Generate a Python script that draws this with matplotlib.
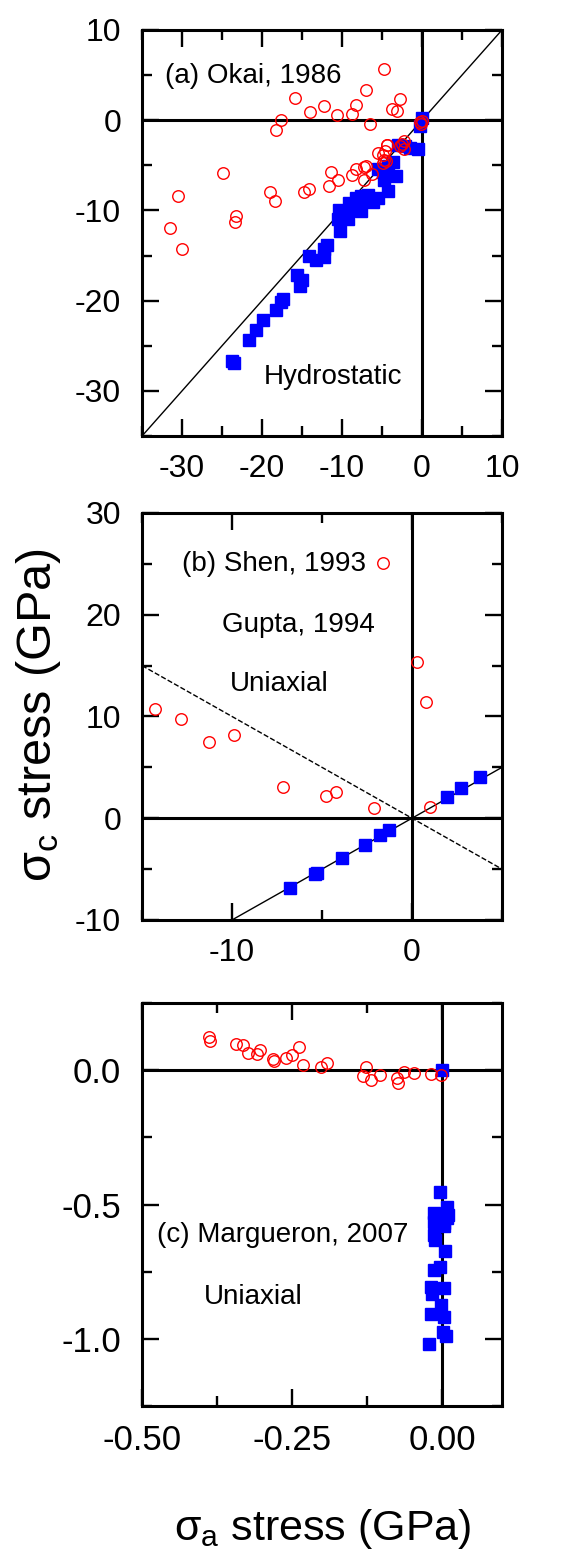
import matplotlib
matplotlib.use("Agg")
import matplotlib.pyplot as plt
from matplotlib.ticker import MultipleLocator, FormatStrFormatter

plt.rcParams['font.family'] = ['Liberation Sans', 'DejaVu Sans']
plt.rcParams['mathtext.fontset'] = 'custom'
plt.rcParams['mathtext.rm'] = 'Liberation Sans'
plt.rcParams['mathtext.it'] = 'Liberation Sans'
plt.rcParams['axes.unicode_minus'] = False

# (a) Okai, 1986 -- hydrostatic
okai_open_x = [-4.8, -7.0, -15.9, -12.3, -8.3, -2.7, -14.0, -10.6, -8.7, -3.8,
               -3.1, -6.5, -17.6, -18.3, -0.2, -0.1, 0.0, -2.5, -2.3, -2.2,
               -2.8, -4.4, -4.6, -4.9, -4.7, -4.9, -4.35, -4.5, -5.5, -7.0,
               -8.2, -7.2, -7.3, -8.7, -6.2, -11.4, -11.6, -10.5, -14.1, -14.8,
               -19.0, -18.4, -24.9, -30.5, -23.3, -23.4, -31.5, -30.0]
okai_open_y = [5.7, 3.3, 2.5, 1.6, 1.65, 2.3, 0.9, 0.55, 0.7, 1.2,
               1.0, -0.45, 0.0, -1.1, -0.2, -0.4, -0.1, -2.6, -3.2, -2.3,
               -2.9, -2.8, -3.4, -3.8, -4.4, -4.7, -2.8, -4.5, -3.6, -5.1,
               -5.4, -5.2, -6.6, -6.1, -6.0, -5.7, -7.3, -6.6, -7.6, -8.0,
               -8.0, -9.0, -5.8, -8.4, -10.6, -11.3, -11.9, -14.3]
okai_fill_x = [0.0, -0.3, -0.5, -1.5, -2.1, -3.0, -3.6, -4.3, -4.9, -3.3,
               -4.7, -4.3, -5.5, -5.5, -6.1, -6.7, -7.1, -7.6, -8.3, -8.5,
               -7.6, -9.1, -9.3, -9.7, -10.4, -10.5, -10.3, -11.9, -12.3, -12.2,
               -13.3, -14.1, -15.6, -15.0, -15.2, -17.4, -17.6, -18.2, -19.9, -20.7,
               -21.6, -23.7, -23.5]
okai_fill_y = [0.2, -0.6, -3.2, -3.1, -2.9, -2.7, -4.6, -5.1, -5.7, -6.2,
               -6.6, -7.8, -5.4, -8.6, -9.1, -8.3, -9.0, -8.4, -8.6, -9.8,
               -10.1, -9.2, -11.0, -10.3, -10.0, -10.9, -12.3, -13.8, -14.3, -15.2,
               -15.5, -15.0, -17.1, -17.7, -18.4, -19.8, -20.1, -21.0, -22.1, -23.2,
               -24.3, -26.7, -26.9]
hydro_line = [-35, 10]

# (b) Shen 1993 (open), Gupta 1994 (filled) -- uniaxial
shen_x = [-1.6, 0.3, 0.8, -14.3, -12.85, -11.3, -9.9, -7.15, -4.8, -4.2, -2.1, 1.0]
shen_y = [25.1, 15.4, 11.4, 10.7, 9.8, 7.45, 8.15, 3.1, 2.2, 2.55, 0.98, 1.14]
gupta_x = [-6.75, -5.4, -5.25, -3.9, -2.6, -1.8, -1.3, 1.95, 2.75, 3.8]
gupta_y = [-6.9, -5.5, -5.4, -3.9, -2.6, -1.65, -1.15, 2.1, 2.95, 4.1]
gupta_line = [-10, 5]
shen_line = [-15, 5]

# (c) Margueron, 2007 -- uniaxial
marg_open_x = [-0.388, -0.387, -0.343, -0.331, -0.324, -0.309, -0.303, -0.281, -0.280,
               -0.260, -0.250, -0.238, -0.231, -0.202, -0.192, -0.131, -0.126,
               -0.119, -0.104, -0.075, -0.074, -0.063, -0.046, -0.019, -0.002]
marg_open_y = [0.122, 0.110, 0.097, 0.095, 0.064, 0.060, 0.074, 0.043, 0.036,
               0.047, 0.057, 0.085, 0.020, 0.013, 0.027, -0.022, 0.011,
               -0.035, -0.016, -0.028, -0.047, -0.006, -0.010, -0.014, -0.018]
marg_fill_x = [0.0, -0.003, 0.008, -0.014, 0.010, -0.014, 0.003, 0.008, 0.003,
               -0.014, -0.012, 0.005, -0.014, -0.003, -0.019, -0.016, 0.004,
               -0.002, -0.019, 0.004, 0.002, 0.006, -0.021]
marg_fill_y = [0.0, -0.454, -0.51, -0.53, -0.54, -0.565, -0.57, -0.55, -0.58,
               -0.615, -0.633, -0.673, -0.744, -0.732, -0.806, -0.831, -0.809,
               -0.874, -0.907, -0.917, -0.973, -0.989, -1.019]

RED = '#ff0000'
BLUE = '#0000ff'
LW = 2.2

fig = plt.figure(figsize=(5.88, 15.54), dpi=100)
ax_a = fig.add_axes([0.2415, 0.7194, 0.6122, 0.2613])
ax_b = fig.add_axes([0.2415, 0.4080, 0.6122, 0.2619])
ax_c = fig.add_axes([0.2415, 0.0952, 0.6122, 0.2593])


def style(ax, size):
    for s in ax.spines.values():
        s.set_linewidth(LW)
    ax.tick_params(which='both', direction='in', top=True, right=True,
                   width=1.7, labelsize=size)
    ax.tick_params(which='major', length=12)
    ax.tick_params(which='minor', length=7)
    ax.tick_params(axis='x', pad=13)
    ax.tick_params(axis='y', pad=15)
    ax.axhline(0, color='k', lw=LW, zorder=1)
    ax.axvline(0, color='k', lw=LW, zorder=1)


def scatter(ax, ox, oy, fx, fy):
    ax.plot(fx, fy, 's', ms=8.8, color=BLUE, mec=BLUE, zorder=3)
    ax.plot(ox, oy, 'o', ms=8.3, mfc='none', mec=RED, mew=1.0, zorder=4)


# panel a
style(ax_a, 23)
ax_a.plot(hydro_line, hydro_line, 'k-', lw=1.0, zorder=2)
scatter(ax_a, okai_open_x, okai_open_y, okai_fill_x, okai_fill_y)
ax_a.set_xlim(-35, 10)
ax_a.set_ylim(-35, 10)
for axis in (ax_a.xaxis, ax_a.yaxis):
    axis.set_major_locator(MultipleLocator(10))
    axis.set_minor_locator(MultipleLocator(5))
ax_a.text(0.064, 0.887, '(a) Okai, 1986', transform=ax_a.transAxes,
          fontsize=20, va='center', ha='left')
ax_a.text(0.337, 0.146, 'Hydrostatic', transform=ax_a.transAxes,
          fontsize=20, va='center', ha='left')

# panel b
style(ax_b, 23)
ax_b.plot(gupta_line, gupta_line, 'k-', lw=1.0, zorder=2)
ax_b.plot(shen_line, [-v for v in shen_line], 'k--', lw=1.0, zorder=2)
scatter(ax_b, shen_x, shen_y, gupta_x, gupta_y)
ax_b.set_xlim(-15, 5)
ax_b.set_ylim(-10, 30)
for axis in (ax_b.xaxis, ax_b.yaxis):
    axis.set_major_locator(MultipleLocator(10))
    axis.set_minor_locator(MultipleLocator(5))
ax_b.text(0.110, 0.875, '(b) Shen, 1993', transform=ax_b.transAxes,
          fontsize=20, va='center', ha='left')
ax_b.text(0.221, 0.725, 'Gupta, 1994', transform=ax_b.transAxes,
          fontsize=20, va='center', ha='left')
ax_b.text(0.244, 0.580, 'Uniaxial', transform=ax_b.transAxes,
          fontsize=20, va='center', ha='left')

# panel c
style(ax_c, 25)
scatter(ax_c, marg_open_x, marg_open_y, marg_fill_x, marg_fill_y)
ax_c.set_xlim(-0.5, 0.1)
ax_c.set_ylim(-1.25, 0.25)
ax_c.xaxis.set_major_locator(MultipleLocator(0.25))
ax_c.xaxis.set_minor_locator(MultipleLocator(0.125))
ax_c.yaxis.set_major_locator(MultipleLocator(0.5))
ax_c.yaxis.set_minor_locator(MultipleLocator(0.25))
ax_c.xaxis.set_major_formatter(FormatStrFormatter('%.2f'))
ax_c.yaxis.set_major_formatter(FormatStrFormatter('%.1f'))
ax_c.text(0.041, 0.424, '(c) Margueron, 2007', transform=ax_c.transAxes,
          fontsize=20, va='center', ha='left')
ax_c.text(0.172, 0.270, 'Uniaxial', transform=ax_c.transAxes,
          fontsize=20, va='center', ha='left')

fig.text(0.066, 0.540, r'$\mathregular{\sigma_c}$ stress (GPa)', rotation=90,
         fontsize=35, ha='center', va='center')
fig.text(0.548, 0.009, r'$\mathregular{\sigma_a}$ stress (GPa)',
         fontsize=31, ha='center', va='baseline')

fig.savefig('out.png', dpi=100)
